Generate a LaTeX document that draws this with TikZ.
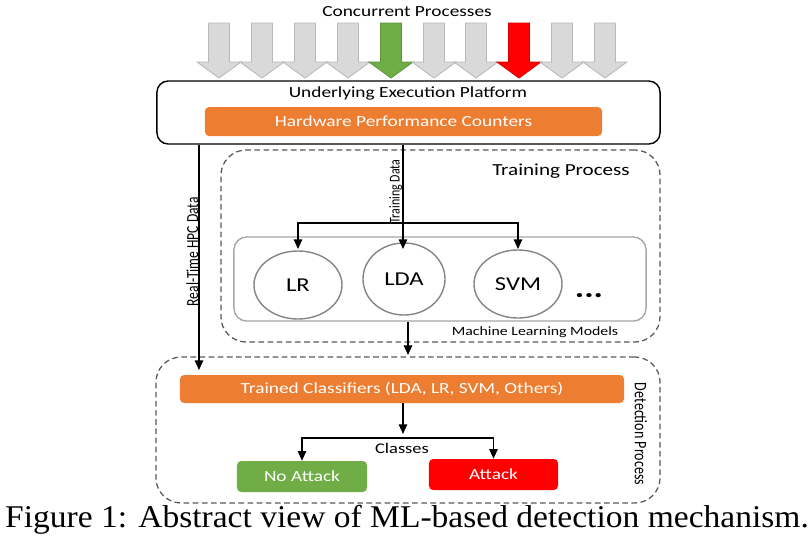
\documentclass[tikz,border=0pt]{standalone}
\usepackage{fontspec}
\setmainfont{Carlito}[FakeStretch=1.25]
\newfontfamily\rotfont{Carlito}[FakeStretch=0.8]
\newfontfamily\capfont{Liberation Serif}[FakeStretch=1.06]
\usetikzlibrary{arrows.meta}
\usetikzlibrary{shapes}
\usetikzlibrary{calc}
\usetikzlibrary{positioning}
\definecolor{hpcorange}{HTML}{ED7D31}
\definecolor{okgreen}{HTML}{70AD47}
\definecolor{badred}{HTML}{FF0000}
\definecolor{procgray}{HTML}{D9D9D9}
\definecolor{procedge}{HTML}{BFBFBF}
\definecolor{dashgray}{HTML}{595959}
\definecolor{boxgray}{HTML}{A6A6A6}
\newcommand\Fs[1]{\fontsize{#1}{#1}\selectfont}

\begin{document}
\begin{tikzpicture}[x=0.025cm,y=-0.025cm,
>={Triangle[length=2.4mm,width=2.1mm]},
line/.style = {-, line width=1pt, black},
arr/.style = {line, ->},
twoarr/.style = {line, <->},
proc/.style = {line width=0.6pt},
platbox/.style = {draw=black, line width=1pt, rounded corners=8pt, minimum width=12.575cm, minimum height=1.575cm},
dashbox/.style = {draw=dashgray, line width=0.9pt, dash pattern=on 4pt off 2.5pt, rounded corners=18pt},
solidbox/.style = {rectangle, rounded corners=3pt, inner sep=0pt, text=white, font=\Fs{11}},
orangebox/.style = {solidbox, fill=hpcorange},
model/.style = {ellipse, draw=boxgray!80!black, line width=1pt, minimum width=2.2cm, minimum height=1.7cm, inner sep=0pt, font=\Fs{14}},
lbl/.style = {inner sep=0pt, font=\Fs{11}},
rotlbl/.style = {inner sep=0pt, rotate=90, anchor=south}
]
\useasboundingbox (0,0) rectangle (812,541);

% concurrent processes
\node (conc) [lbl] at (407,12) {Concurrent Processes};
\foreach \x/\c in {219/procgray,262/procgray,305/procgray,348/procgray,391/okgreen,434/procgray,476/procgray,519/badred,562/procgray,605/procgray}
  \filldraw[proc, fill=\c, draw=\c!85!black] (\x-10.5,23) -- (\x+10.5,23) -- (\x+10.5,62) -- (\x+22,62) -- (\x,78) -- (\x-22,62) -- (\x-10.5,62) -- cycle;

% platform
\node (plat) [platbox] at (408.5,112.5) {};
\node (platlbl) [lbl] at (408,93) {Underlying Execution Platform};
\node (hpc) [orangebox, minimum width=9.925cm, minimum height=0.725cm] at (403.5,121.5) {Hardware Performance Counters};

% training
\node (train) [dashbox, minimum width=10.975cm, minimum height=4.8cm] at (440.5,246) {};
\node (trainlbl) [lbl, font=\Fs{12}] at (561,171) {Training Process};
\node (ml) [draw=boxgray, line width=1pt, rounded corners=9pt, minimum width=10.3cm, minimum height=2.1cm] at (440,279) {};
\node (mllbl) [lbl, font=\Fs{9}] at (535,332) {Machine Learning Models};
\node (lr) [model] at (298,285) {LR};
\node (lda) [model, minimum width=2.05cm, minimum height=1.8cm] at (404,279) {LDA};
\node (svm) [model] at (518,284) {SVM};
\node (dots) [inner sep=0pt, font=\Fs{20}\bfseries] at (589,296) {...};

% detection
\node (det) [dashbox, minimum width=12.6cm, minimum height=3.65cm] at (408,430) {};
\node (detlbl) [inner sep=0pt, rotate=-90, font=\rotfont\Fs{12.5}] at (641,434) {Detection Process};
\node (clf) [orangebox, minimum width=11.1cm, minimum height=0.7cm] at (402,389) {Trained Classifiers (LDA, LR, SVM, Others)};
\node (noatk) [solidbox, fill=okgreen, minimum width=3.25cm, minimum height=0.775cm] at (302,476.5) {No Attack};
\node (atk) [solidbox, fill=badred, minimum width=3.225cm, minimum height=0.775cm] at (493.5,474.5) {Attack};
\node (clslbl) [lbl, font=\Fs{10.5}] at (402,448) {Classes};

% connectors
\coordinate (rt) at (199,370);
\coordinate (tip) at (0,249);
\coordinate (split) at (403,223);
\coordinate (mlout) at (408,355);
\coordinate (bar) at (403,438);
\coordinate (cls) at (403,434);
\draw[arr] (plat.south -| rt) -- node[rotlbl, font=\rotfont\Fs{12}, pos=0.46, xshift=-2.5pt] {Real-Time HPC Data} (rt);
\draw[arr] (plat.south -| split) -- node[rotlbl, font=\rotfont\Fs{10.6}, pos=0.42, xshift=-2pt] {Training Data} (split |- tip);
\draw[twoarr] (lr |- tip) |- (split) -| (svm |- tip);
\draw[arr] (ml.south -| mlout) -- (mlout);
\draw[arr] (clf.south -| cls) -- (cls);
\draw[twoarr] (noatk.north) |- (bar) -| (atk.north);

% caption
\node (cap) [inner sep=0pt, font=\capfont\Fs{22.5}] at (407,520) {Figure 1: Abstract view of ML-based detection mechanism.};
\end{tikzpicture}
\end{document}
